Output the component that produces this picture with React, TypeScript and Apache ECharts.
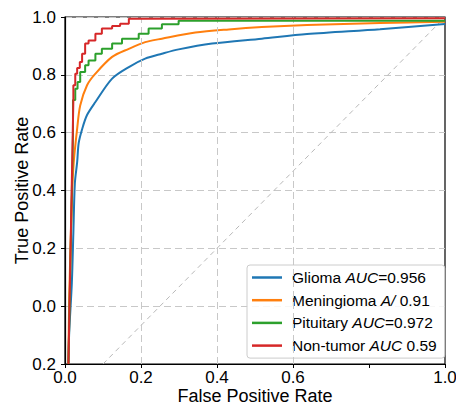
import React, { useEffect, useRef } from "react";
import * as echarts from "echarts";

// ---- data ----
const seriesNames = ["Glioma", "Meningioma", "Pituitary", "Non-tumor"];
const legendLabels = [
  "Glioma {i|AUC}=0.956",
  "Meningioma {i|A/} 0.91",
  "Pituitary {i|AUC}=0.972",
  "Non-tumor {i|AUC} 0.59",
];
const seriesColors = ["#1f77b4", "#ff7f0e", "#2ca02c", "#d62728"];

const gliomaFpr = [0.009, 0.011, 0.018, 0.022, 0.026, 0.032, 0.036, 0.045, 0.058, 0.08, 0.124, 0.168, 0.211, 0.255, 0.299, 0.387, 0.518, 0.637, 0.829, 1.0];
const gliomaTpr = [-0.2, -0.093, 0.08, 0.253, 0.426, 0.498, 0.564, 0.612, 0.661, 0.706, 0.787, 0.827, 0.856, 0.873, 0.888, 0.908, 0.925, 0.941, 0.958, 0.976];

const meningFpr = [0.009, 0.011, 0.018, 0.023, 0.032, 0.04, 0.058, 0.08, 0.124, 0.168, 0.211, 0.255, 0.343, 0.431, 0.518, 0.637, 0.829, 1.0];
const meningTpr = [-0.2, 0.021, 0.367, 0.498, 0.614, 0.694, 0.764, 0.804, 0.862, 0.89, 0.913, 0.925, 0.946, 0.957, 0.965, 0.972, 0.979, 0.984];

const pituitFpr = [0.009, 0.021, 0.021, 0.027, 0.027, 0.033, 0.033, 0.04, 0.04, 0.053, 0.053, 0.062, 0.062, 0.08, 0.08, 0.097, 0.097, 0.124, 0.124, 0.15, 0.15, 0.194, 0.194, 0.22, 0.22, 0.255, 0.255, 0.299, 0.299, 1.0];
const pituitTpr = [-0.2, 0.591, 0.713, 0.713, 0.752, 0.752, 0.775, 0.775, 0.81, 0.81, 0.833, 0.833, 0.85, 0.85, 0.873, 0.873, 0.89, 0.89, 0.908, 0.908, 0.925, 0.925, 0.942, 0.942, 0.96, 0.96, 0.975, 0.975, 0.987, 0.987];

const nonTumorFpr = [0.009, 0.022, 0.022, 0.027, 0.027, 0.032, 0.032, 0.039, 0.039, 0.045, 0.045, 0.053, 0.053, 0.062, 0.062, 0.08, 0.08, 0.097, 0.097, 0.124, 0.124, 0.145, 0.145, 0.168, 0.168, 0.203, 0.203, 1.0];
const nonTumorTpr = [-0.2, 0.713, 0.764, 0.764, 0.804, 0.804, 0.824, 0.824, 0.844, 0.844, 0.873, 0.873, 0.908, 0.908, 0.919, 0.919, 0.942, 0.942, 0.96, 0.96, 0.969, 0.969, 0.977, 0.977, 0.994, 0.994, 0.996, 0.996];

const chanceX = [0.1, 1.0];
const chanceY = [-0.2, 1.0];

const xGridValues = [0.2, 0.4, 0.6];
const hiddenXLabels = [0.8];

const FONT = "Liberation Sans, Arial, sans-serif";

const zip = (xs: number[], ys: number[]) => xs.map((x, i) => [x, ys[i]]);

export default function App() {
  const ref = useRef<HTMLDivElement>(null);

  useEffect(() => {
    if (!ref.current) return;
    const chart = echarts.init(ref.current, undefined, { renderer: "svg" });

    const curves = [
      { fpr: gliomaFpr, tpr: gliomaTpr, smooth: true },
      { fpr: meningFpr, tpr: meningTpr, smooth: true },
      { fpr: pituitFpr, tpr: pituitTpr, smooth: false },
      { fpr: nonTumorFpr, tpr: nonTumorTpr, smooth: false },
    ];

    const lineSeries = curves.map((c, i) => ({
      name: seriesNames[i],
      type: "line",
      data: zip(c.fpr, c.tpr),
      showSymbol: false,
      symbol: "none",
      smooth: c.smooth ? 0.3 : false,
      color: seriesColors[i],
      lineStyle: { color: seriesColors[i], width: 2 },
      itemStyle: { color: seriesColors[i] },
      z: 3 + i,
    }));

    const option: any = {
      animation: false,
      backgroundColor: "#ffffff",
      textStyle: { fontFamily: FONT },
      grid: {
        left: 65,
        right: 11,
        top: 17,
        bottom: 43,
        containLabel: false,
        outerBoundsMode: "none",
        show: true,
        borderColor: "#000",
        borderWidth: 1.2,
        backgroundColor: "transparent",
      },
      xAxis: {
        type: "value",
        min: 0,
        max: 1.0,
        interval: 0.2,
        name: "False Positive Rate",
        nameLocation: "middle",
        nameGap: 23,
        nameMoveOverlap: false,
        nameTextStyle: { fontSize: 18, lineHeight: 18, color: "#000", fontFamily: FONT },
        axisLine: { show: true, onZero: false, lineStyle: { color: "#000", width: 1.2 } },
        axisTick: { show: true, length: 4, lineStyle: { color: "#000" } },
        axisLabel: {
          fontSize: 17,
          lineHeight: 17,
          color: "#000",
          margin: 5,
          fontFamily: FONT,
          formatter: (v: number) =>
            hiddenXLabels.some((h) => Math.abs(h - v) < 1e-6) ? "" : v.toFixed(1),
        },
        splitLine: { show: false },
      },
      yAxis: {
        type: "value",
        min: -0.2,
        max: 1.0,
        interval: 0.2,
        name: "True Positive Rate",
        nameLocation: "middle",
        nameGap: 34,
        nameMoveOverlap: false,
        nameTextStyle: { fontSize: 18, color: "#000", fontFamily: FONT },
        axisLine: { show: true, onZero: false, lineStyle: { color: "#000", width: 1.2 } },
        axisTick: { show: true, length: 4, lineStyle: { color: "#000" } },
        axisLabel: {
          fontSize: 17,
          color: "#000",
          margin: 9,
          fontFamily: FONT,
          formatter: (v: number) => Math.abs(v).toFixed(1),
        },
        splitLine: {
          show: true,
          lineStyle: { color: "#c8c8c8", type: [7, 4], width: 1 },
        },
      },
      legend: {
        data: seriesNames,
        orient: "vertical",
        left: 247,
        top: 265,
        padding: [4, 8, 4, 5],
        itemGap: 5.7,
        itemWidth: 30,
        itemHeight: 2.5,
        icon: "rect",
        borderColor: "#cccccc",
        borderWidth: 1,
        borderRadius: 3,
        backgroundColor: "rgba(255,255,255,0.85)",
        formatter: (name: string) => legendLabels[seriesNames.indexOf(name)],
        textStyle: {
          fontSize: 15.5,
          color: "#000",
          fontFamily: FONT,
          lineHeight: 17,
          padding: [0, 0, 0, 5],
          rich: {
            i: { fontStyle: "italic", fontSize: 15.5, color: "#000", fontFamily: FONT },
          },
        },
      },
      series: [
        {
          name: "chance",
          type: "line",
          data: zip(chanceX, chanceY),
          showSymbol: false,
          symbol: "none",
          lineStyle: { color: "#b8b8b8", width: 1, type: [5, 4] },
          z: 2,
          markLine: {
            silent: true,
            symbol: ["none", "none"],
            label: { show: false },
            lineStyle: { color: "#c8c8c8", type: [7, 4], width: 1 },
            data: xGridValues.map((v) => ({ xAxis: v })),
          },
        },
        ...lineSeries,
      ],
    };

    chart.setOption(option);
    return () => chart.dispose();
  }, []);

  return (
    <div
      ref={ref}
      style={{ position: "fixed", left: 0, top: 0, width: 456, height: 407, background: "#fff" }}
    />
  );
}
